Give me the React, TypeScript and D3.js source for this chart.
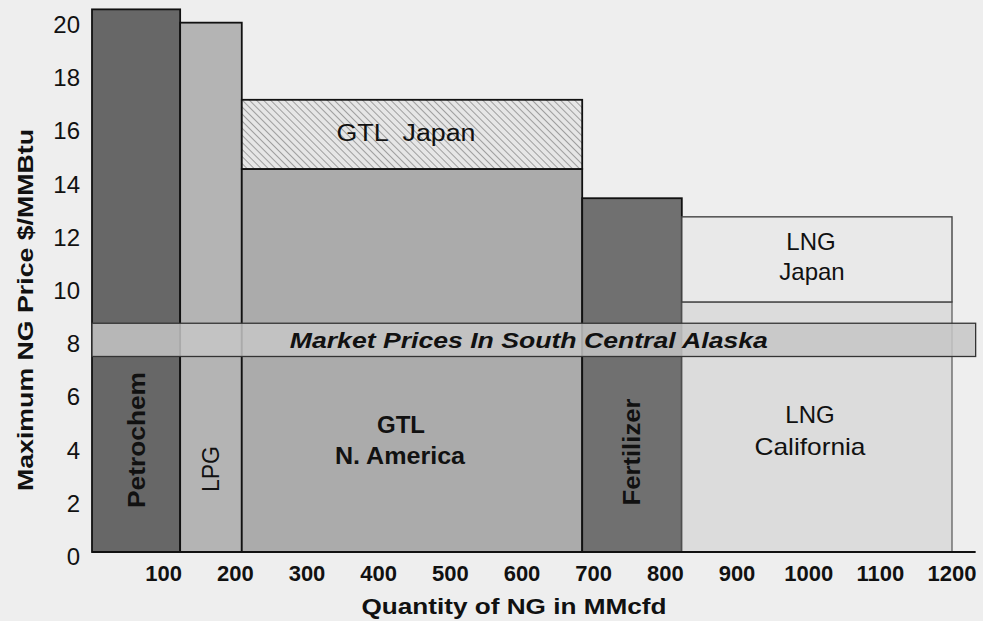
import React from "react";
import * as d3 from "d3";

// ---- data ----
const segNames = ["Petrochem", "LPG", "GTL N. America", "Fertilizer", "LNG California"];
const segStart = [0, 123, 209, 684, 823];
const segEnd = [123, 209, 684, 823, 1200];
const segPrice = [20.4, 19.9, 14.4, 13.3, 9.4];
const segFill = ["#676767", "#b4b4b4", "#ababab", "#707070", "#dcdcdc"];

const topNames = ["GTL Japan", "LNG Japan"];
const topStart = [209, 823];
const topEnd = [684, 1200];
const topLow = [14.4, 9.4];
const topHigh = [17.0, 12.6];

const bandLabel = "Market Prices In South Central Alaska";
const bandStart = 0;
const bandEnd = 1233;
const bandLow = 7.35;
const bandHigh = 8.6;

const xTicks = [100, 200, 300, 400, 500, 600, 700, 800, 900, 1000, 1100, 1200];
const yTicks = [0, 2, 4, 6, 8, 10, 12, 14, 16, 18, 20];

const xTitle = "Quantity of NG in MMcfd";
const yTitle = "Maximum NG Price $/MMBtu";

export default function App() {
  const W = 983, H = 621;
  const x = d3.scaleLinear().domain([0, 1200]).range([92, 952]);
  const y = d3.scaleLinear().domain([0, 20]).range([552, 20]);
  const font = "Liberation Sans, Arial, sans-serif";

  return (
    <div style={{ position: "absolute", left: 0, top: 0 }}>
      <svg width={W} height={H} style={{ display: "block" }} fontFamily={font}>
        <defs>
          <pattern id="hatch" patternUnits="userSpaceOnUse" width={5} height={5} patternTransform="rotate(-45)">
            <rect width={5} height={5} fill="#e6e6e6" />
            <line x1={0} y1={0} x2={0} y2={5} stroke="#8c8c8c" strokeWidth={1.6} />
          </pattern>
        </defs>
        <rect width={W} height={H} fill="#eeeeee" />

        {/* main bars */}
        {segNames.map((n, i) => (
          <rect
            key={n}
            x={x(segStart[i])}
            y={y(segPrice[i])}
            width={x(segEnd[i]) - x(segStart[i])}
            height={y(0) - y(segPrice[i])}
            fill={segFill[i]}
            stroke={i === 4 ? "#555" : "#111"}
            strokeWidth={i === 4 ? 1.2 : 1.8}
          />
        ))}

        {/* top-ups */}
        {topNames.map((n, i) => (
          <rect
            key={n}
            x={x(topStart[i])}
            y={y(topHigh[i])}
            width={x(topEnd[i]) - x(topStart[i])}
            height={y(topLow[i]) - y(topHigh[i])}
            fill={i === 0 ? "url(#hatch)" : "#e9e9e9"}
            stroke={i === 0 ? "#111" : "#444"}
            strokeWidth={i === 0 ? 1.8 : 1.4}
          />
        ))}

        {/* market band */}
        <rect
          x={x(bandStart)}
          y={y(bandHigh)}
          width={x(bandEnd) - x(bandStart)}
          height={y(bandLow) - y(bandHigh)}
          fill="#c6c6c6"
          fillOpacity={0.85}
          stroke="#333"
          strokeWidth={1.3}
        />
        <text
          x={(x(bandStart) + x(bandEnd)) / 2 - 5}
          y={(y(bandHigh) + y(bandLow)) / 2 + 8}
          textAnchor="middle"
          fontWeight="bold"
          fontStyle="italic"
          fontSize={22}
          textLength={478}
          lengthAdjust="spacingAndGlyphs"
          fill="#111"
        >
          {bandLabel}
        </text>

        {/* x axis line */}
        <line x1={x(0)} x2={x(1233)} y1={y(0)} y2={y(0)} stroke="#111" strokeWidth={2.2} />

        {/* x tick labels */}
        {xTicks.map((t) => (
          <text key={t} x={x(t)} y={y(0) + 29} textAnchor="middle" fontWeight="bold" fontSize={22} fill="#111">
            {t}
          </text>
        ))}
        {/* y tick labels */}
        {yTicks.map((t) => (
          <text key={t} x={80} y={y(t) + 13} textAnchor="end" fontSize={24} fill="#111">
            {t}
          </text>
        ))}

        {/* axis titles */}
        <text x={514} y={614} textAnchor="middle" fontWeight="bold" fontSize={22} textLength={305} lengthAdjust="spacingAndGlyphs" fill="#111">
          {xTitle}
        </text>
        <text transform="translate(33,310) rotate(-90)" textAnchor="middle" fontWeight="bold" fontSize={22} textLength={362} lengthAdjust="spacingAndGlyphs" fill="#111">
          {yTitle}
        </text>

        {/* bar labels */}
        <text transform={`translate(${(x(segStart[0]) + x(segEnd[0])) / 2 + 9},440) rotate(-90)`} textAnchor="middle" fontWeight="bold" fontSize={23} textLength={136} lengthAdjust="spacingAndGlyphs" fill="#111">
          {segNames[0]}
        </text>
        <text transform={`translate(${(x(segStart[1]) + x(segEnd[1])) / 2 + 8},469) rotate(-90)`} textAnchor="middle" fontSize={23} fill="#111">
          {segNames[1]}
        </text>
        <text transform={`translate(${(x(segStart[3]) + x(segEnd[3])) / 2 + 8},452) rotate(-90)`} textAnchor="middle" fontWeight="bold" fontSize={23} textLength={107} lengthAdjust="spacingAndGlyphs" fill="#111">
          {segNames[3]}
        </text>
        <text x={401} y={433} textAnchor="middle" fontWeight="bold" fontSize={24} fill="#111">GTL</text>
        <text x={400} y={464} textAnchor="middle" fontWeight="bold" fontSize={23} textLength={130} lengthAdjust="spacingAndGlyphs" fill="#111">N. America</text>
        <text x={406} y={141} textAnchor="middle" fontSize={23} textLength={139} lengthAdjust="spacingAndGlyphs" fill="#111" style={{ whiteSpace: "pre" }}>{"GTL  Japan"}</text>
        <text x={811} y={250} textAnchor="middle" fontSize={24} fill="#111">LNG</text>
        <text x={812} y={280} textAnchor="middle" fontSize={24} fill="#111">Japan</text>
        <text x={810} y={423} textAnchor="middle" fontSize={24} fill="#111">LNG</text>
        <text x={810} y={455} textAnchor="middle" fontSize={24} textLength={111} lengthAdjust="spacingAndGlyphs" fill="#111">California</text>
      </svg>
    </div>
  );
}
